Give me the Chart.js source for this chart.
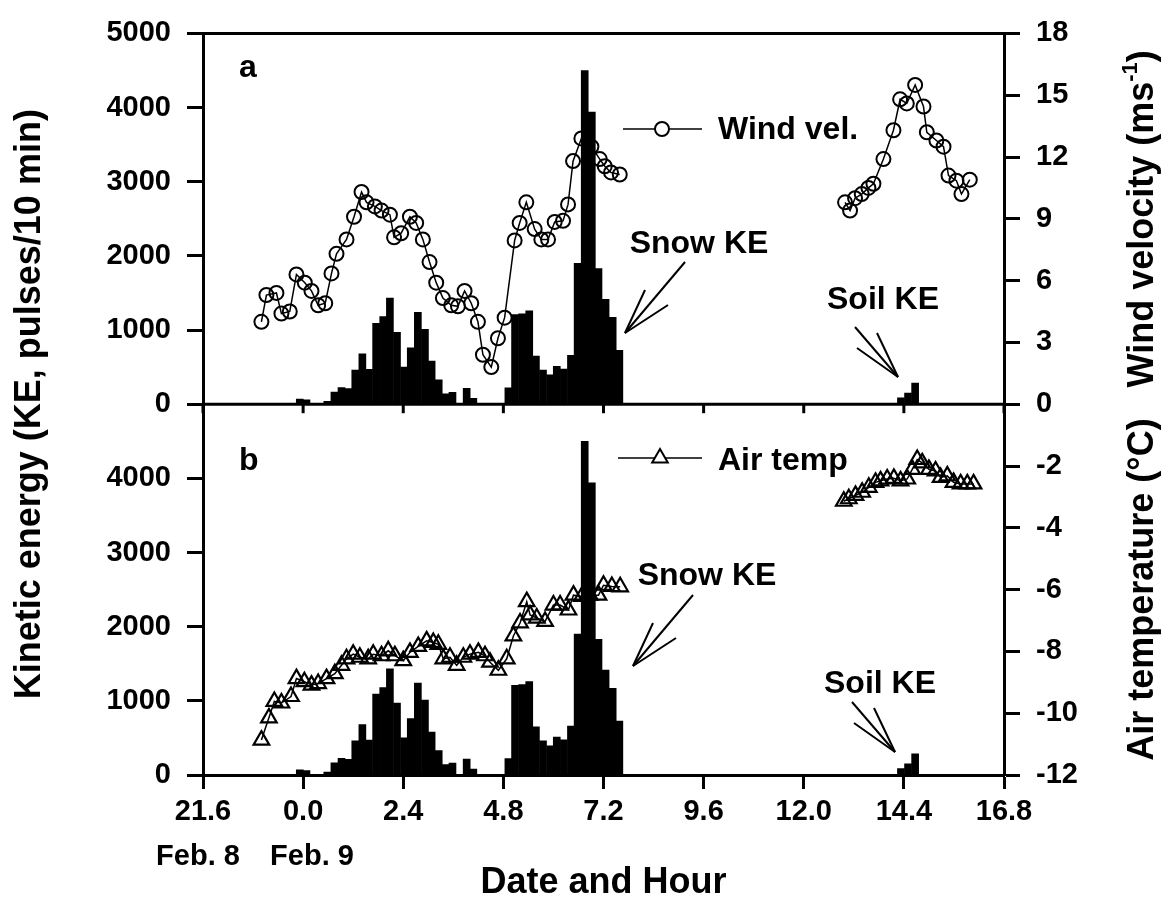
<!DOCTYPE html>
<html>
<head>
<meta charset="utf-8">
<script src="https://cdn.jsdelivr.net/npm/chart.js@4.4.1/dist/chart.umd.min.js"></script>
<style>
  body { margin: 0; background: #fff; }
  canvas { display: block; }
</style>
</head>
<body>
<canvas id="snowChart" width="1175" height="911"></canvas>
<script>
// hours counted from 0:00 on Feb. 9 (negative = evening of Feb. 8)
let keHours = [-0.08, 0.08, 0.58, 0.75, 0.92, 1.08, 1.25, 1.42, 1.58, 1.75, 1.92, 2.08, 2.25, 2.42, 2.58, 2.75, 2.92, 3.08, 3.25, 3.42, 3.58, 3.92, 4.08,
    4.92, 5.08, 5.25, 5.42, 5.58, 5.75, 5.92, 6.08, 6.25, 6.42, 6.58, 6.75, 6.92, 7.08, 7.25, 7.42, 7.58]
let snowKE = [70, 60, 40, 165, 225, 210, 460, 680, 470, 1090, 1180, 1430, 970, 500, 760, 1240, 1010, 580, 330, 140, 160, 215, 80,
    220, 1210, 1220, 1260, 650, 460, 395, 510, 475, 660, 1900, 4500, 3940, 1830, 1415, 1170, 728]

let soilHours = [14.33, 14.50, 14.67]
let soilKE = [85, 150, 285]

let windHours = [-1.00, -0.88, -0.64, -0.52, -0.32, -0.16, 0.04, 0.20, 0.36, 0.53, 0.68, 0.80, 1.04, 1.22, 1.40, 1.52, 1.72, 1.88,
    2.08, 2.18, 2.35, 2.56, 2.71, 2.87, 3.03, 3.19, 3.35, 3.55, 3.71, 3.87, 4.03, 4.19, 4.31, 4.51, 4.67, 4.83,
    5.07, 5.19, 5.35, 5.55, 5.71, 5.87, 6.03, 6.23, 6.35, 6.47, 6.67, 6.91, 7.11, 7.23, 7.38, 7.59,
    10.0,
    12.99, 13.11, 13.23, 13.39, 13.55, 13.67, 13.91, 14.15, 14.31, 14.47, 14.67, 14.87, 14.95, 15.18, 15.35, 15.47, 15.66, 15.78, 15.98]
let windSpeed = [4.0, 5.3, 5.4, 4.4, 4.5, 6.3, 5.9, 5.5, 4.8, 4.9, 6.35, 7.3, 8.0, 9.1, 10.3, 9.8, 9.6, 9.4,
    9.2, 8.1, 8.3, 9.1, 8.8, 8.0, 6.9, 5.9, 5.15, 4.8, 4.75, 5.5, 4.9, 4.0, 2.4, 1.8, 3.2, 4.2,
    7.95, 8.8, 9.8, 8.5, 8.0, 8.0, 8.85, 8.9, 9.7, 11.8, 12.9, 12.5, 11.9, 11.55, 11.25, 11.15,
    null,
    9.8, 9.4, 10.0, 10.2, 10.5, 10.7, 11.9, 13.3, 14.8, 14.6, 15.5, 14.45, 13.2, 12.8, 12.5, 11.1, 10.85, 10.2, 10.9]

let tempHours = [-1.00, -0.82, -0.69, -0.52, -0.29, -0.16, 0.03, 0.20, 0.36, 0.56, 0.76, 0.92, 1.04, 1.20, 1.36, 1.56, 1.68, 1.88,
    2.04, 2.20, 2.40, 2.56, 2.76, 2.96, 3.12, 3.24, 3.36, 3.52, 3.68, 3.84, 4.00, 4.20, 4.36, 4.48, 4.68, 4.88,
    5.04, 5.20, 5.36, 5.44, 5.60, 5.80, 6.00, 6.16, 6.36, 6.48, 6.68, 6.87, 7.08, 7.20, 7.40, 7.60,
    10.0,
    12.96, 13.08, 13.24, 13.40, 13.56, 13.72, 13.84, 14.00, 14.16, 14.32, 14.48, 14.60, 14.72, 14.84, 15.00, 15.16, 15.28, 15.44, 15.59, 15.76, 15.92, 16.07]
let airTemp = [-10.87, -10.15, -9.62, -9.67, -9.46, -8.88, -8.98, -9.09, -9.04, -8.88, -8.72, -8.45, -8.24, -8.09, -8.19, -8.24, -8.09, -8.14,
    -7.98, -8.14, -8.30, -8.03, -7.84, -7.66, -7.71, -7.77, -8.24, -8.19, -8.45, -8.19, -8.09, -8.03, -8.14, -8.35, -8.61, -8.24,
    -7.50, -7.08, -6.39, -6.82, -6.92, -7.03, -6.50, -6.50, -6.66, -6.18, -6.22, -6.18, -6.18, -5.86, -5.90, -5.91,
    null,
    -3.14, -3.06, -2.95, -2.85, -2.69, -2.53, -2.48, -2.42, -2.40, -2.48, -2.42, -2.11, -1.79, -1.90, -2.11, -2.16, -2.37, -2.32, -2.53, -2.58, -2.58, -2.58]

let FONT = "'Liberation Sans', Arial, sans-serif"

let pairs = function (xs, ys) {
    return xs.map(function (x, i) { return { x: x, y: ys[i] } })
}
let bold = function (size) {
    return { family: FONT, size: size, weight: 'bold' }
}
let seg = function (ctx, x1, y1, x2, y2) {
    ctx.beginPath(); ctx.moveTo(x1, y1); ctx.lineTo(x2, y2); ctx.stroke();
}
// rotated (bottom-to-top) text made of parts, superscripts get a dy
let upText = function (ctx, cx, cy, parts) {
    ctx.save();
    ctx.translate(cx, cy);
    ctx.rotate(-Math.PI / 2);
    ctx.textAlign = 'left';
    ctx.textBaseline = 'middle';
    let total = 0;
    parts.forEach(function (p) {
        ctx.font = 'bold ' + p.size + 'px ' + FONT;
        p.w = ctx.measureText(p.t).width;
        total += p.w;
    });
    let x = -total / 2;
    parts.forEach(function (p) {
        ctx.font = 'bold ' + p.size + 'px ' + FONT;
        ctx.fillText(p.t, x, p.dy || 0);
        x += p.w;
    });
    ctx.restore();
}

let barSet = function (xs, ys, axis) {
    return {
        type: 'bar', data: pairs(xs, ys), yAxisID: axis,
        backgroundColor: '#000', borderWidth: 0, barThickness: 7, grouped: false, order: 2
    }
}

let frameAndNotes = {
    id: 'frameAndNotes',
    afterDraw: function (chart) {
        let ctx = chart.ctx
        let ca = chart.chartArea
        let x = chart.scales.x
        let midY = chart.scales.keA.bottom
        ctx.save();
        ctx.strokeStyle = '#000';
        ctx.fillStyle = '#000';
        ctx.lineWidth = 3;
        seg(ctx, ca.left - 1, ca.top, ca.right + 1, ca.top);
        seg(ctx, ca.left, midY, ca.right, midY);
        x.ticks.forEach(function (t) {
            let px = x.getPixelForValue(t.value);
            seg(ctx, px, midY, px, midY + 9);
        });

        // axis titles
        upText(ctx, 30, (ca.top + ca.bottom) / 2, [{ t: 'Kinetic energy (KE, pulses/10 min)', size: 36 }]);
        upText(ctx, 1143, (ca.top + midY) / 2, [{ t: 'Wind velocity (ms', size: 36 }, { t: '-1', size: 22, dy: -12 }, { t: ')', size: 36 }]);
        upText(ctx, 1143, (midY + ca.bottom) / 2, [{ t: 'Air temperature (°C)', size: 36 }]);

        ctx.textBaseline = 'middle';
        ctx.textAlign = 'center';
        ctx.font = 'bold 29px ' + FONT;
        ctx.fillText('Feb. 8', 198, 857);
        ctx.fillText('Feb. 9', 312, 857);

        ctx.font = 'bold 32px ' + FONT;
        ctx.textAlign = 'left';
        ctx.fillText('a', 239, 68);
        ctx.fillText('b', 239, 461);

        // legend samples
        ctx.lineWidth = 1.5;
        seg(ctx, 623, 129, 702, 129);
        seg(ctx, 618, 458, 702, 458);
        ctx.lineWidth = 2;
        ctx.fillStyle = '#fff';
        ctx.beginPath(); ctx.arc(662, 129, 7, 0, Math.PI * 2); ctx.fill(); ctx.stroke();
        ctx.beginPath(); ctx.moveTo(660, 449); ctx.lineTo(667.8, 462.5); ctx.lineTo(652.2, 462.5); ctx.closePath(); ctx.fill(); ctx.stroke();
        ctx.fillStyle = '#000';
        ctx.fillText('Wind vel.', 718, 130);
        ctx.fillText('Air temp', 718, 461);

        ctx.textAlign = 'center';
        ctx.fillText('Snow KE', 699, 244);
        ctx.fillText('Snow KE', 707, 576);
        ctx.fillText('Soil KE', 883, 300);
        ctx.fillText('Soil KE', 880, 684);

        // arrows
        ctx.lineWidth = 2;
        [[0, 0], [8, 333]].forEach(function (o) {
            let tx = 625 + o[0], ty = 333 + o[1];
            seg(ctx, 685 + o[0], 262 + o[1], tx, ty);
            seg(ctx, 645 + o[0], 290 + o[1], tx, ty);
            seg(ctx, 668 + o[0], 305 + o[1], tx, ty);
        });
        [[0, 0], [-3, 375]].forEach(function (o) {
            let tx = 898 + o[0], ty = 377 + o[1];
            seg(ctx, 855 + o[0], 327 + o[1], tx, ty);
            seg(ctx, 877 + o[0], 333 + o[1], tx, ty);
            seg(ctx, 857 + o[0], 348 + o[1], tx, ty);
        });
        ctx.restore();
    }
}

let yAxis = function (pos, min, max, step, hideTop, width) {
    return {
        type: 'linear', position: pos, stack: pos, stackWeight: 1,
        min: min, max: max,
        ticks: {
            stepSize: step, autoSkip: false, color: '#000', font: bold(29), padding: 16,
            callback: function (v) { return (hideTop && v === max) ? '' : String(v) }
        },
        grid: { drawOnChartArea: false, drawTicks: true, tickLength: 16, tickWidth: 3, color: '#000' },
        border: { display: true, width: 3, color: '#000' },
        afterFit: function (scale) { scale.width = width }
    }
}

let chartDraw = function () {
    let ctx = document.getElementById('snowChart').getContext('2d');

    window.snowChart = new Chart(ctx, {
        type: 'bar',
        data: {
            datasets: [
                {
                    type: 'line', label: 'Wind vel.', data: pairs(windHours, windSpeed), yAxisID: 'wind',
                    borderColor: '#000', borderWidth: 1.5, pointStyle: 'circle', pointRadius: 7,
                    pointBorderWidth: 2, pointBackgroundColor: 'rgba(0,0,0,0)', pointBorderColor: '#000',
                    spanGaps: false, order: 1
                },
                {
                    type: 'line', label: 'Air temp', data: pairs(tempHours, airTemp), yAxisID: 'temp',
                    borderColor: '#000', borderWidth: 1.5, pointStyle: 'triangle', pointRadius: 9,
                    pointBorderWidth: 2.2, pointBackgroundColor: 'rgba(0,0,0,0)', pointBorderColor: '#000',
                    spanGaps: false, order: 1
                },
                barSet(keHours, snowKE, 'keA'),
                barSet(soilHours, soilKE, 'keA'),
                barSet(keHours, snowKE, 'keB'),
                barSet(soilHours, soilKE, 'keB')
            ]
        },
        options: {
            responsive: false,
            animation: false,
            layout: { padding: { top: 23, left: 0, right: 0, bottom: 0 } },
            plugins: { legend: { display: false }, tooltip: { enabled: false } },
            scales: {
                x: {
                    type: 'linear', position: 'bottom', min: -2.4, max: 16.8, offset: false,
                    ticks: {
                        stepSize: 2.4, autoSkip: false, maxRotation: 0, color: '#000', font: bold(29), padding: 6,
                        callback: function (v) { return (v < 0 ? v + 24 : v).toFixed(1) }
                    },
                    grid: { offset: false, drawOnChartArea: false, drawTicks: true, tickLength: 14, tickWidth: 3, color: '#000' },
                    border: { display: true, width: 3, color: '#000' },
                    title: { display: true, text: 'Date and Hour', color: '#000', font: bold(36), padding: { top: 0, bottom: 6 } },
                    afterFit: function (scale) { scale.height = 136 }
                },
                keB: yAxis('left', 0, 5000, 1000, true, 203),
                keA: yAxis('left', 0, 5000, 1000, false, 203),
                wind: yAxis('right', 0, 18, 3, false, 171),
                temp: yAxis('right', -12, 0, 2, true, 171)
            }
        },
        plugins: [frameAndNotes]
    });
};

window.addEventListener('load', function () {
    chartDraw();
})
</script>
</body>
</html>
